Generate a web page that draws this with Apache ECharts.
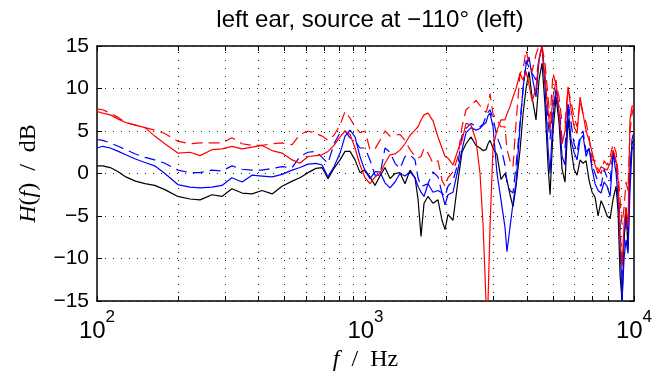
<!DOCTYPE html>
<html>
<head>
<meta charset="utf-8">
<script src="https://cdn.jsdelivr.net/npm/echarts@6/dist/echarts.min.js"></script>
<style>
  html, body { margin: 0; padding: 0; background: #fff; }
  #chart { width: 666px; height: 376px; }
</style>
</head>
<body>
<div id="chart"></div>
<script>
// frequency grid (Hz)
const freqs = [
  100, 105, 112, 120, 128, 139, 151, 164, 179, 200,
  222, 242, 268, 292, 318, 347, 378, 412, 449, 489,
  533, 570, 611, 654, 689, 725, 763, 804, 839, 876,
  914, 954, 996, 1039, 1085, 1132, 1182, 1234, 1288, 1344,
  1403, 1465, 1529, 1569, 1610, 1652, 1709, 1784, 1862, 1927,
  1978, 2029, 2118, 2211, 2288, 2368, 2472, 2580, 2670, 2740,
  2811, 2860, 2909, 2985, 3089, 3196, 3307, 3365, 3453, 3543,
  3637, 3762, 3861, 3962, 4064, 4171, 4315, 4428, 4544, 4662,
  4784, 4867, 4993, 5124, 5258, 5395, 5536, 5680, 5828, 5981,
  6137, 6297, 6461, 6630, 6803, 6981, 7163, 7349, 7541, 7738,
  7940, 8147, 8359, 8577, 8725, 8874, 9027, 9183, 9338, 9498,
  9662, 9830, 10000
]

// H(f) in dB
const blackSolid = [
  0.9, 0.9, 0.7, 0.2, -0.4, -0.9, -1.2, -1.4, -1.9, -2.7,
  -3.0, -3.1, -2.5, -2.7, -1.8, -2.3, -2.4, -2.0, -2.4, -1.5,
  -0.9, -0.5, 0.1, 0.6, 0.7, -0.6, 0.6, 1.6, 2.6, 2.6,
  1.6, 0.1, 0.4, -0.4, -1.4, -0.3, 0.7, -0.6, 0.0, 0.1,
  -1.2, 0.4, -0.5, -3.0, -7.4, -3.5, -2.7, -3.5, -3.1, -5.5,
  -6.6, -4.8, -5.5, -0.8, 2.5, 3.5, 4.3, 3.3, 3.0, 2.7,
  2.8, 3.5, 3.9, 3.0, 2.2, -0.7, 0.0, -0.8, -2.5, -3.9,
  -1.5, 2.7, 7.0, 10.0, 12.0, 9.0, 6.3, 11.0, 13.0, 8.0,
  1.0, -2.5, 5.0, 9.0, 6.0, 0.5, -1.0, 6.5, 3.0, 0.5,
  -0.2, 1.6, 1.2, 1.5, -0.8, -2.2, -2.8, -5.0, -3.2, -4.0,
  -5.0, -5.3, -3.0, -1.5, -4.5, -12.0, -15, -8.0, -4.0, -9.0,
  0.5, 3.5, 4.0
]

const blueSolid = [
  3.0, 3.2, 3.0, 2.6, 2.2, 1.7, 1.3, 0.9, 0.0, -1.3,
  -1.6, -1.7, -1.6, -1.4, -0.5, -1.0, -0.2, -0.3, -0.4, -0.1,
  0.4, 0.7, 1.1, 1.2, 1.0, -0.4, 0.8, 2.4, 4.4, 5.1,
  4.3, 2.0, 0.3, -0.6, 0.2, 0.2, -1.1, -1.7, -1.0, 0.0,
  -0.3, 0.2, -0.5, -1.5, -2.2, -2.7, -1.2, -2.2, -2.0, -2.3,
  -3.7, -2.5, -2.2, 0.5, 2.8, 4.8, 5.4, 5.1, 5.3, 5.7,
  6.0, 6.8, 7.1, 5.5, 0.0, -3.1, -6.3, -9.2, -6.3, -3.5,
  -1.0, 5.5, 10.0, 12.8, 13.7, 11.5, 9.0, 13.3, 15, 10.2,
  3.0, 0.0, 6.7, 10.0, 7.0, 2.0, 1.0, 7.9, 4.0, 2.5,
  1.6, 4.0, 4.5, 2.0, 3.0, 0.5, -1.2, -2.0, -2.3, -1.0,
  -1.5, -2.7, 2.4, 0.0, -3.0, -7.8, -15, -10, -7.8, -9.4,
  -2.0, 2.8, 3.5
]

const blueDashed = [
  4.0, 3.9, 3.6, 3.2, 2.8, 2.3, 1.9, 1.6, 1.2, 0.4,
  0.1, 0.1, 0.4, 0.3, 0.9, 0.5, 0.4, 0.4, 0.6, 0.8,
  0.7, 2.0, 2.5, 2.6, 1.9, 1.2, 3.5, 4.8, 5.0, 4.2,
  3.8, 3.0, 3.0, 1.6, -0.2, -0.2, 3.0, 2.5, 1.2, 0.6,
  2.0, 2.2, 1.6, -0.5, -1.5, -1.4, -1.2, 0.2, -0.4, -2.3,
  -2.7, -1.5, -0.8, 1.2, 4.5, 5.3, 5.9, 5.5, 5.5, 5.8,
  6.7, 7.2, 7.5, 6.5, 4.3, 3.1, 1.0, -1.1, -2.0, -2.3,
  1.0, 6.0, 9.8, 13.3, 12.5, 11.8, 11.0, 13.5, 15, 11.5,
  6.0, 4.0, 8.0, 9.4, 7.9, 4.0, 3.0, 8.5, 6.0, 3.5,
  2.5, 4.5, 5.0, 2.5, 3.0, 1.0, 0.0, -1.0, -1.5, 0.5,
  -0.5, -1.0, 2.8, 1.0, -1.5, -6.0, -12, -8.0, -5.0, -7.0,
  0.0, 4.0, 5.0
]

const redSolid = [
  7.3, 7.1, 6.9, 6.4, 6.0, 5.7, 5.4, 4.4, 3.5, 2.4,
  2.5, 2.1, 2.8, 2.9, 3.2, 2.9, 3.1, 3.3, 2.7, 2.4,
  1.6, 1.2, 2.0, 2.1, 2.2, 2.6, 3.3, 4.3, 5.0, 4.6,
  3.0, 1.0, -0.5, -1.2, -0.4, 0.0, 1.2, 2.2, 2.3, 2.75,
  3.5, 4.5, 5.1, 5.5, 6.3, 6.9, 7.1, 6.2, 4.3, 3.0,
  2.0, 1.8, 1.0, 2.8, 3.9, 5.9, 5.7, 3.9, 0.0, -6.0,
  -15, -15, -6.3, 3.1, 5.1, 6.3, 6.3, 7.0, 7.9, 9.0,
  10.0, 11.8, 11.0, 12.0, 10.5, 8.5, 10.0, 13.5, 14.9, 11.0,
  7.5, 5.1, 9.0, 11.0, 7.0, 3.5, 5.0, 10.2, 7.5, 5.5,
  4.7, 9.0, 7.0, 5.0, 3.9, 2.5, 1.0, 0.0, 0.8, 0.6,
  0.4, 1.2, 2.75, 1.5, -0.75, -7.8, -11, -6.0, -4.0, -6.3,
  6.3, 7.9, 8.0
]

const redDashed = [
  7.6, 7.5, 7.1, 6.6, 6.0, 5.7, 5.4, 5.1, 4.7, 3.8,
  3.5, 3.6, 3.6, 3.6, 4.2, 3.5, 3.3, 3.3, 3.5, 3.6,
  3.4, 4.6, 5.0, 4.7, 4.4, 3.9, 4.5, 5.7, 7.3, 6.5,
  5.5, 4.8, 5.0, 2.8, 2.9, 3.9, 5.0, 4.4, 4.5, 4.6,
  3.9, 2.8, 2.0, 1.8, 2.0, 3.0, 2.4, 1.2, 1.5, -0.8,
  -1.5, -0.5, 0.2, 2.0, 5.5, 7.5, 8.0, 8.6, 8.0, 7.5,
  7.2, 8.0, 9.4, 7.0, 6.3, 5.5, 5.5, 2.8, 1.5, 0.8,
  6.0, 11.8, 12.2, 14.5, 13.0, 12.0, 14.0, 15, 15, 13,
  9.0, 6.5, 11.8, 10.5, 9.0, 6.0, 6.0, 10.0, 8.5, 6.5,
  5.5, 8.5, 7.0, 6.0, 4.3, 1.6, 1.5, 0.5, 0.0, 1.5,
  1.0, 2.0, 3.5, 2.5, 0.0, -3.0, -6.0, -4.0, -1.0, -2.0,
  5.0, 7.0, 8.0
]

// axis ticks
const xLabels = [100, 1000, 10000]
const xTicks = [
  100, 200, 300, 400, 500, 600, 700, 800, 900,
  1000, 2000, 3000, 4000, 5000, 6000, 7000, 8000, 9000, 10000
]
const yMin = -15
const yMax = 15
const yStep = 5

const sans = 'Liberation Sans'
const serif = 'Liberation Serif'

const pairs = vals => freqs.map((f, i) => [f, vals[i]])

const lineSeries = (name, vals, color, dashed) => ({
  name,
  type: 'line',
  data: pairs(vals),
  symbol: 'none',
  showSymbol: false,
  silent: true,
  clip: true,
  lineStyle: { color, width: 1.2, type: dashed ? [11, 6] : 'solid' },
})

const frame = { show: true, onZero: false, lineStyle: { color: '#000', width: 1.5 } }

const xAxisBase = {
  type: 'log',
  logBase: 10,
  min: 100,
  max: 10000,
  splitLine: { show: false },
  axisLine: frame,
  axisTick: {
    show: true,
    inside: true,
    length: 5,
    customValues: xTicks,
    lineStyle: { color: '#000', width: 1 },
  },
}

const yAxisBase = {
  type: 'value',
  min: yMin,
  max: yMax,
  interval: yStep,
  axisLine: frame,
  axisTick: { show: true, inside: true, length: 5, lineStyle: { color: '#000', width: 1 } },
}

const chart = echarts.init(document.getElementById('chart'), null, { renderer: 'canvas' })

// dotted vertical grid at every decade subdivision
const gridLines = lineSeries('grid', [], '#000', false)
gridLines.data = []
gridLines.z = 1
gridLines.markLine = {
  silent: true,
  symbol: 'none',
  animation: false,
  label: { show: false },
  lineStyle: { color: '#222', width: 1, type: [1, 7] },
  data: xTicks.slice(1, -1).map(v => ({ xAxis: v })),
}

chart.setOption({
  animation: false,
  backgroundColor: '#fff',
  title: {
    text: 'left ear, source at \u2212110\u00b0 (left)',
    left: 365,
    top: 3,
    textAlign: 'center',
    textStyle: { fontFamily: sans, fontSize: 24, fontWeight: 'normal', color: '#000' },
  },
  grid: {
    left: 97,
    right: 32,
    top: 46,
    bottom: 75,
    outerBoundsMode: 'none',
    containLabel: false,
  },
  xAxis: [
    Object.assign({}, xAxisBase, {
      position: 'bottom',
      name: '{i|f}{n|  /  Hz}',
      nameLocation: 'middle',
      nameGap: 46,
      nameTextStyle: {
        rich: {
          i: { fontFamily: serif, fontStyle: 'italic', fontSize: 24, color: '#000' },
          n: { fontFamily: serif, fontSize: 24, color: '#000' },
        },
      },
      axisLabel: {
        show: true,
        margin: 8,
        customValues: xLabels,
        formatter: v => '{b|10}{s|' + Math.round(Math.log10(v)) + '}',
        rich: {
          b: { fontFamily: sans, fontSize: 24, color: '#000', lineHeight: 34, verticalAlign: 'bottom' },
          s: { fontFamily: sans, fontSize: 17, color: '#000', lineHeight: 34, verticalAlign: 'top' },
        },
      },
    }),
    Object.assign({}, xAxisBase, {
      position: 'top',
      axisLabel: { show: false },
    }),
  ],
  yAxis: [
    Object.assign({}, yAxisBase, {
      position: 'left',
      name: '{i|H}{n|(}{i|f}{n|)  /  dB}',
      nameLocation: 'middle',
      nameRotate: 90,
      nameGap: 56,
      nameTextStyle: {
        rich: {
          i: { fontFamily: serif, fontStyle: 'italic', fontSize: 24, color: '#000' },
          n: { fontFamily: serif, fontSize: 24, color: '#000' },
        },
      },
      splitLine: { show: true, lineStyle: { color: '#222', width: 1, type: [1, 7] } },
      axisLabel: {
        margin: 8,
        fontFamily: sans,
        fontSize: 21,
        color: '#000',
        formatter: v => (v < 0 ? '\u2212' + Math.abs(v) : String(v)),
      },
    }),
    Object.assign({}, yAxisBase, {
      position: 'right',
      splitLine: { show: false },
      axisLabel: { show: false },
    }),
  ],
  series: [
    gridLines,
    lineSeries('black', blackSolid, '#000000', false),
    lineSeries('blue', blueSolid, '#0000ff', false),
    lineSeries('blue dashed', blueDashed, '#0000ff', true),
    lineSeries('red', redSolid, '#ff0000', false),
    lineSeries('red dashed', redDashed, '#ff0000', true),
  ],
})
</script>
</body>
</html>
